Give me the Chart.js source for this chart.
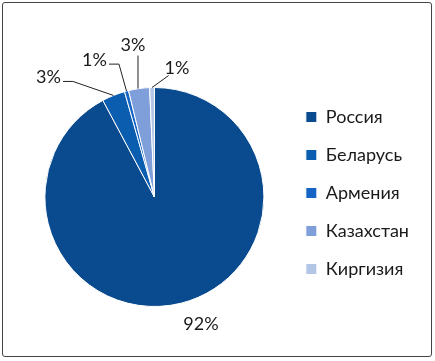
<!DOCTYPE html>
<html>
<head>
<meta charset="utf-8">
<script src="https://cdn.jsdelivr.net/npm/chart.js@4/dist/chart.umd.min.js"></script>
<style>
  body { margin: 0; background: #fff; }
  #wrap { position: relative; width: 435px; height: 361px; }
  #frame { position: absolute; left: 2px; top: 2px; width: 428px; height: 353px;
           border: 1px solid #444; border-radius: 3px; pointer-events: none; }
</style>
</head>
<body>
<div id="wrap">
  <canvas id="myChart" width="435" height="361"></canvas>
  <div id="frame"></div>
</div>
<script>
var countries = ["Россия", "Беларусь", "Армения", "Казахстан", "Киргизия"];
var shares = [92.2, 3.4, 0.6, 3.1, 0.7];
var colors = ["#0A4A8F", "#0B5DB0", "#1565C6", "#7F9FDA", "#B4C6E6"];

// label offsets from the slice's outer edge midpoint (dx, dy)
var labelOffsets = [[20, 21], [-65, -18], [-32, -31], [-6, -43], [25, -19]];

var outsideLabels = {
  id: "outsideLabels",
  afterLayout: function (chart) {
    // nudge legend up a little
    chart.legend.top -= 4;
    chart.legend.bottom -= 4;
  },
  afterDatasetsDraw: function (chart) {
    var ctx = chart.ctx;
    var meta = chart.getDatasetMeta(0);
    var total = shares.reduce(function (a, b) { return a + b; }, 0);
    ctx.save();
    ctx.font = "18px Lato, 'Open Sans', sans-serif";
    ctx.textAlign = "center";
    ctx.textBaseline = "middle";
    meta.data.forEach(function (arc, i) {
      var mid = (arc.startAngle + arc.endAngle) / 2;
      var ax = arc.x + Math.cos(mid) * arc.outerRadius;
      var ay = arc.y + Math.sin(mid) * arc.outerRadius;
      var lx = ax + labelOffsets[i][0];
      var ly = ay + labelOffsets[i][1];
      var txt = Math.round(shares[i] / total * 100) + "%";
      ctx.fillStyle = "#1a1a1a";
      ctx.fillText(txt, lx, ly);
      if (i === 0) return;
      var w = ctx.measureText(txt).width;
      ctx.strokeStyle = "#222";
      ctx.lineWidth = 1;
      ctx.beginPath();
      if (Math.abs(labelOffsets[i][0]) > 20) {
        var side = labelOffsets[i][0] < 0 ? 1 : -1;
        var sx = lx + side * (w / 2 + 2);
        var sy = ly + 4;
        if (side > 0) {
          ctx.moveTo(sx, sy);
          ctx.lineTo(sx + 10, sy);
        } else {
          ctx.moveTo(lx - w / 2 + 4, ly + 7);
        }
        ctx.lineTo(ax, ay);
      } else {
        ctx.moveTo(lx + 5, ly + 10);
        ctx.lineTo(lx + 5, ay);
      }
      ctx.stroke();
    });
    ctx.restore();
  }
};

var ctx = document.getElementById("myChart").getContext("2d");

var chart = new Chart(ctx, {
  type: "pie",
  data: {
    labels: countries,
    datasets: [
      {
        data: shares,
        backgroundColor: colors,
        borderColor: "#ffffff",
        borderWidth: 1,
      },
    ],
  },
  options: {
    responsive: false,
    animation: false,
    layout: { padding: { top: 87, bottom: 54, left: 23, right: 16 } },
    plugins: {
      tooltip: { enabled: false },
      legend: {
        position: "right",
        labels: {
          boxWidth: 11,
          boxHeight: 11,
          padding: 20,
          color: "#1a1a1a",
          font: { family: "Lato, 'Open Sans', sans-serif", size: 18 },
        },
      },
    },
  },
  plugins: [outsideLabels],
});
</script>
</body>
</html>
